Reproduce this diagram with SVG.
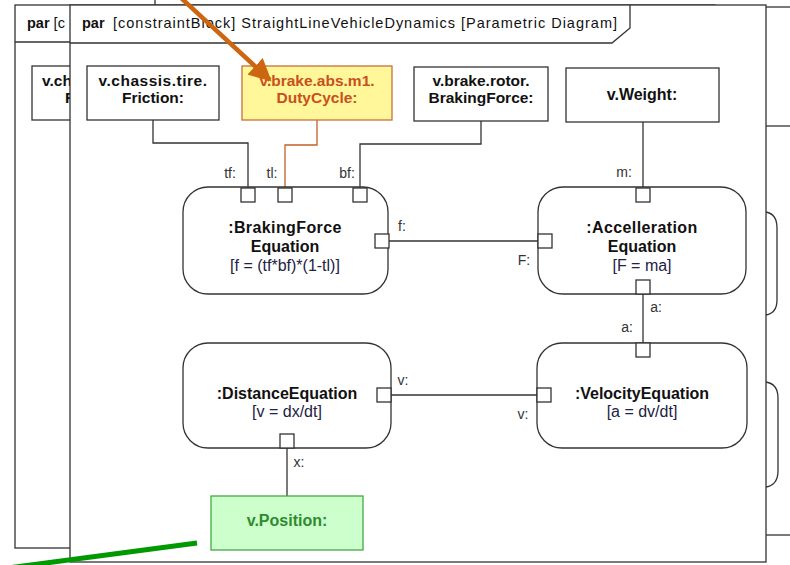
<svg xmlns="http://www.w3.org/2000/svg" width="790" height="565" viewBox="0 0 790 565">
<defs>
<style>
.frame{fill:#fff;stroke:#333;stroke-width:1.3}
.ln{fill:none;stroke:#333;stroke-width:1.3}
.box{fill:#fff;stroke:#333;stroke-width:1.3}
.blk{fill:#fff;stroke:#333;stroke-width:1.3}
.port{fill:#fff;stroke:#333;stroke-width:1.3}
.hdr{font-family:"Liberation Sans",Arial,sans-serif;font-size:14.5px;fill:#111}
.lbl{font-family:"Liberation Sans",Arial,sans-serif;font-size:16px;font-weight:bold;fill:#111;text-anchor:middle}
.lb2{font-family:"Liberation Sans",Arial,sans-serif;font-size:15.5px;font-weight:bold;fill:#111;text-anchor:middle}
.lbs{font-family:"Liberation Sans",Arial,sans-serif;font-size:15.5px;font-weight:bold;fill:#111}
.eq{font-family:"Liberation Sans",Arial,sans-serif;font-size:16px;fill:#222244;text-anchor:middle}
.pl{font-family:"Liberation Sans",Arial,sans-serif;font-size:14px;fill:#333;text-anchor:middle}
</style>
<marker id="oarr" viewBox="0 0 10 10" refX="9" refY="5" markerWidth="5" markerHeight="5" orient="auto" markerUnits="strokeWidth">
<path d="M0,0 L10,5 L0,10 z" fill="#CC6611"/>
</marker>
</defs>

<g id="background">
<line x1="155" y1="0" x2="155" y2="5" class="ln"/>
<line x1="766" y1="7" x2="790" y2="7" class="ln"/>
<line x1="766" y1="126" x2="790" y2="126" class="ln"/>
<line x1="766" y1="535" x2="790" y2="535" class="ln"/>
<path d="M766,212 Q777,214 777,228 V300 Q777,313 766,315" class="ln"/>
<path d="M766,382 Q778,384 778,398 V471 Q778,485 766,487" class="ln"/>
</g>

<g id="back-frame">
<rect x="15" y="5" width="700" height="543" class="frame"/>
<line x1="15" y1="42" x2="700" y2="42" class="ln"/>
<text x="27" y="28" class="hdr"><tspan font-weight="bold">par</tspan> [c</text>
<rect x="32" y="66" width="132" height="54" class="box"/>
<text x="42" y="85.5" class="lbs">v.ch</text>
<text x="65" y="102.5" class="lbs">F</text>
</g>

<g id="front-frame">
<rect x="70" y="5" width="696" height="557" class="frame"/>
<path d="M70,43 H612 L630,28 V5" class="ln"/>
<text x="82" y="28" class="hdr" font-weight="bold">par</text>
<text x="113" y="28" class="hdr" textLength="504" lengthAdjust="spacing">[constraintBlock] StraightLineVehicleDynamics [Parametric Diagram]</text>
</g>

<g id="connectors">
<path d="M153,120 V143 H248 V188" class="ln"/>
<path d="M317,120 V145 H285 V188" fill="none" stroke="#C0602A" stroke-width="1.3"/>
<path d="M481,121 V144 H360 V188" class="ln"/>
<path d="M643,122 V188" class="ln"/>
<path d="M389,241 H538" class="ln"/>
<path d="M643,294 V343" class="ln"/>
<path d="M391,395 H537" class="ln"/>
<path d="M287,448 V496" class="ln"/>
</g>

<g id="friction">
<rect x="87" y="66" width="132" height="54" class="box"/>
<text x="153" y="85.5" class="lb2" letter-spacing="0.5">v.chassis.tire.</text>
<text x="153" y="102.5" class="lb2">Friction:</text>
</g>

<g id="dutycycle">
<rect x="242" y="66" width="150" height="54" fill="#FFF799" stroke="#C8703A" stroke-width="1.3"/>
<text x="317" y="85.5" class="lb2" style="fill:#C8501E">v.brake.abs.m1.</text>
<text x="317" y="102.5" class="lb2" style="fill:#C8501E">DutyCycle:</text>
</g>

<g id="brakingforce">
<rect x="414" y="67" width="134" height="54" class="box"/>
<text x="481" y="85.5" class="lb2">v.brake.rotor.</text>
<text x="481" y="102.5" class="lb2">BrakingForce:</text>
</g>

<g id="weight">
<rect x="566" y="68" width="153" height="54" class="box"/>
<text x="642" y="100" class="lbl">v.Weight:</text>
</g>

<g id="brakingforce-eq">
<rect x="183" y="187" width="205" height="107" rx="25" ry="25" class="blk"/>
<text x="285" y="233" class="lbl" letter-spacing="0.4">:BrakingForce</text>
<text x="285" y="252" class="lbl">Equation</text>
<text x="285" y="271" class="eq">[f = (tf*bf)*(1-tl)]</text>
<rect x="241" y="188" width="14" height="14" class="port"/>
<rect x="278" y="188" width="14" height="14" class="port"/>
<rect x="353" y="188" width="14" height="14" class="port"/>
<rect x="375" y="234" width="14" height="14" class="port"/>
<text x="230" y="178" class="pl">tf:</text>
<text x="272" y="178" class="pl">tl:</text>
<text x="347" y="178" class="pl">bf:</text>
<text x="402" y="231" class="pl">f:</text>
</g>

<g id="accelleration-eq">
<rect x="538" y="187" width="208" height="107" rx="25" ry="25" class="blk"/>
<text x="642" y="233" class="lbl" letter-spacing="0.4">:Accelleration</text>
<text x="642" y="252" class="lbl">Equation</text>
<text x="642" y="271" class="eq">[F = ma]</text>
<rect x="636" y="188" width="14" height="14" class="port"/>
<rect x="538" y="234" width="14" height="14" class="port"/>
<rect x="636" y="280" width="14" height="14" class="port"/>
<text x="624" y="177" class="pl">m:</text>
<text x="524" y="265" class="pl">F:</text>
<text x="656" y="312" class="pl">a:</text>
</g>

<g id="velocity-eq">
<rect x="537" y="343" width="210" height="105" rx="25" ry="25" class="blk"/>
<text x="642" y="399" class="lbl">:VelocityEquation</text>
<text x="642" y="417" class="eq">[a = dv/dt]</text>
<rect x="636" y="343" width="14" height="14" class="port"/>
<rect x="537" y="388" width="14" height="14" class="port"/>
<text x="627" y="332" class="pl">a:</text>
<text x="523" y="419" class="pl">v:</text>
</g>

<g id="distance-eq">
<rect x="183" y="343" width="208" height="105" rx="25" ry="25" class="blk"/>
<text x="287" y="399" class="lbl">:DistanceEquation</text>
<text x="287" y="417" class="eq">[v = dx/dt]</text>
<rect x="377" y="388" width="14" height="14" class="port"/>
<rect x="280" y="434" width="14" height="14" class="port"/>
<text x="403" y="385" class="pl">v:</text>
<text x="299" y="467" class="pl">x:</text>
</g>

<g id="position">
<rect x="211" y="496" width="152" height="54" fill="#CCFFCC" stroke="#44AA44" stroke-width="1.3"/>
<text x="287" y="526" class="lbl" style="fill:#2E8B2E">v.Position:</text>
</g>

<g id="callouts">
<line x1="180" y1="-3" x2="270" y2="80" stroke="#CC6611" stroke-width="4.5" marker-end="url(#oarr)"/>
<line x1="197" y1="543" x2="8" y2="568" stroke="#009900" stroke-width="5"/>
</g>
</svg>
